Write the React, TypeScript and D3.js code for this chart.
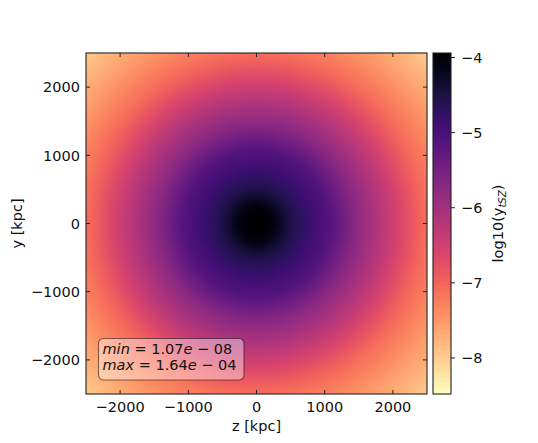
import { useMemo } from 'react';
import * as d3 from 'd3';

// radial profile of log10(y_tSZ)
const radii = [0, 150, 300, 500, 780, 1075, 1470, 1955, 2350, 2500, 3000, 3550];
const logY = [-3.78, -3.92, -4.15, -4.53, -4.85, -5.12, -5.76, -6.39, -6.93, -7.1, -7.55, -8.0];

const axisTicks = [-2000, -1000, 0, 1000, 2000];
const cbarTicks = [-8, -7, -6, -5, -4];
const cbarDomain = [-8.48, -3.94];
const extent = [-2500, 2500];

const W = 538;
const H = 443;
const plot = { left: 86, top: 53, right: 427, bottom: 394 };
const cbar = { left: 433, right: 451 };
const FONT = 'DejaVu Sans, sans-serif';
const FS = 14.5;

const App = () => {
  const xScale = d3.scaleLinear().domain(extent).range([plot.left, plot.right]);
  const yScale = d3.scaleLinear().domain(extent).range([plot.bottom, plot.top]);
  const profile = d3.scaleLinear().domain(radii).range(logY).clamp(true);
  const colour = d3
    .scaleSequential((t: number) => d3.interpolateMagma(1 - t))
    .domain(cbarDomain)
    .clamp(true);
  const cScale = d3.scaleLinear().domain(cbarDomain).range([plot.bottom, plot.top]);

  const pw = plot.right - plot.left;
  const ph = plot.bottom - plot.top;

  const mapUrl = useMemo(() => {
    const canvas = document.createElement('canvas');
    canvas.width = pw;
    canvas.height = ph;
    const ctx = canvas.getContext('2d');
    if (!ctx) return '';
    const img = ctx.createImageData(pw, ph);
    for (let j = 0; j < ph; j++) {
      const y = yScale.invert(plot.top + j + 0.5);
      for (let i = 0; i < pw; i++) {
        const z = xScale.invert(plot.left + i + 0.5);
        const c = d3.rgb(colour(profile(Math.hypot(z, y))));
        const k = (j * pw + i) * 4;
        img.data[k] = c.r;
        img.data[k + 1] = c.g;
        img.data[k + 2] = c.b;
        img.data[k + 3] = 255;
      }
    }
    ctx.putImageData(img, 0, 0);
    return canvas.toDataURL();
  }, []);

  const cbarUrl = useMemo(() => {
    const canvas = document.createElement('canvas');
    canvas.width = 1;
    canvas.height = ph;
    const ctx = canvas.getContext('2d');
    if (!ctx) return '';
    for (let j = 0; j < ph; j++) {
      ctx.fillStyle = colour(cScale.invert(plot.top + j + 0.5));
      ctx.fillRect(0, j, 1, 1);
    }
    return canvas.toDataURL();
  }, []);

  const fmt = (d: number) => (d < 0 ? '\u2212' + Math.abs(d) : String(d));
  const tickLen = 4;

  return (
    <svg width={W} height={H} style={{ display: 'block', margin: '-8px' }} fontFamily={FONT}>
      <rect width={W} height={H} fill='white' />
      <image href={mapUrl} x={plot.left} y={plot.top} width={pw} height={ph}
        preserveAspectRatio='none' style={{ imageRendering: 'pixelated' }} />

      {/* inward ticks on all four sides */}
      <g stroke='#222' strokeWidth={1}>
        {axisTicks.map((t) => (
          <g key={'x' + t}>
            <line x1={xScale(t)} x2={xScale(t)} y1={plot.bottom} y2={plot.bottom - tickLen} />
            <line x1={xScale(t)} x2={xScale(t)} y1={plot.top} y2={plot.top + tickLen} />
            <line y1={yScale(t)} y2={yScale(t)} x1={plot.left} x2={plot.left + tickLen} />
            <line y1={yScale(t)} y2={yScale(t)} x1={plot.right} x2={plot.right - tickLen} />
          </g>
        ))}
      </g>
      <rect x={plot.left} y={plot.top} width={pw} height={ph} fill='none' stroke='#222' strokeWidth={1.1} />

      <g fontSize={FS} fill='#111'>
        {axisTicks.map((t) => (
          <text key={'xl' + t} x={xScale(t)} y={411.5} textAnchor='middle'>{fmt(t)}</text>
        ))}
        {axisTicks.map((t) => (
          <text key={'yl' + t} x={80} y={yScale(t) + 5.2} textAnchor='end'>{fmt(t)}</text>
        ))}
        <text x={(plot.left + plot.right) / 2} y={431} textAnchor='middle'>z [kpc]</text>
        <text transform={`translate(22,${(plot.top + plot.bottom) / 2}) rotate(-90)`} textAnchor='middle'>y [kpc]</text>
      </g>

      {/* stats box */}
      <rect x={98.5} y={338.5} width={145.5} height={41.5} rx={5} fill='white' fillOpacity={0.4}
        stroke='#000' strokeOpacity={0.5} strokeWidth={1.1} />
      <g fontSize={FS} fill='#111'>
        <text x={102.5} y={354}>
          <tspan fontStyle='italic'>min</tspan> = 1.07<tspan fontStyle='italic'>e</tspan> {'\u2212'} 08
        </text>
        <text x={102.5} y={369.5}>
          <tspan fontStyle='italic'>max</tspan> = 1.64<tspan fontStyle='italic'>e</tspan> {'\u2212'} 04
        </text>
      </g>

      {/* colour bar */}
      <image href={cbarUrl} x={cbar.left} y={plot.top} width={cbar.right - cbar.left} height={ph}
        preserveAspectRatio='none' />
      <rect x={cbar.left} y={plot.top} width={cbar.right - cbar.left} height={ph} fill='none' stroke='#222' strokeWidth={1.1} />
      <g stroke='#222' strokeWidth={1}>
        {cbarTicks.map((t) => (
          <line key={'c' + t} x1={cbar.right} x2={cbar.right + tickLen} y1={cScale(t)} y2={cScale(t)} />
        ))}
      </g>
      <g fontSize={FS} fill='#111'>
        {cbarTicks.map((t) => (
          <text key={'cl' + t} x={cbar.right + 10} y={cScale(t) + 5.2}>{fmt(t)}</text>
        ))}
        <text transform={`translate(503,${(plot.top + plot.bottom) / 2}) rotate(-90)`} textAnchor='middle'>
          log10(y<tspan fontStyle='italic' fontSize={FS * 0.7} dy={3}>tSZ</tspan><tspan dy={-3}>)</tspan>
        </text>
      </g>
    </svg>
  );
};

export default App;
